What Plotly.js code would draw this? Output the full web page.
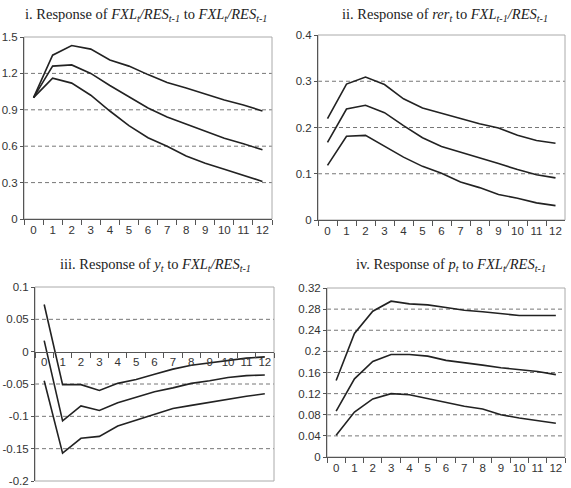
<!DOCTYPE html>
<html>
<head>
<meta charset="utf-8">
<script src="https://cdn.plot.ly/plotly-3.0.1.min.js"></script>
<style>html,body{margin:0;padding:0;background:#fff;}#chart{width:571px;height:488px;}</style>
</head>
<body>
<div id="chart"></div>
<script>
// Horizon (periods)
const periods = ['0','1','2','3','4','5','6','7','8','9','10','11','12'];

// Panel i: Response of FXL_t/RES_t-1 to FXL_t/RES_t-1
const p1Upper = [1.0, 1.35, 1.43, 1.40, 1.31, 1.26, 1.19, 1.125, 1.08, 1.03, 0.98, 0.94, 0.89];
const p1Mid   = [1.0, 1.26, 1.27, 1.20, 1.10, 1.005, 0.915, 0.84, 0.78, 0.72, 0.665, 0.62, 0.57];
const p1Lower = [1.0, 1.16, 1.12, 1.02, 0.89, 0.77, 0.67, 0.60, 0.52, 0.46, 0.41, 0.36, 0.31];

// Panel ii: Response of rer_t to FXL_t-1/RES_t-1
const p2Upper = [0.219, 0.294, 0.309, 0.293, 0.262, 0.242, 0.231, 0.219, 0.208, 0.199, 0.183, 0.172, 0.166];
const p2Mid   = [0.168, 0.240, 0.248, 0.232, 0.204, 0.178, 0.159, 0.147, 0.135, 0.122, 0.109, 0.098, 0.091];
const p2Lower = [0.118, 0.181, 0.183, 0.160, 0.136, 0.116, 0.101, 0.082, 0.070, 0.055, 0.047, 0.037, 0.031];

// Panel iii: Response of y_t to FXL_t/RES_t-1
const p3Upper = [0.073, -0.051, -0.051, -0.060, -0.049, -0.043, -0.035, -0.027, -0.021, -0.017, -0.014, -0.010, -0.008];
const p3Mid   = [0.017, -0.107, -0.084, -0.091, -0.079, -0.070, -0.062, -0.056, -0.049, -0.045, -0.040, -0.037, -0.036];
const p3Lower = [-0.045, -0.157, -0.134, -0.131, -0.115, -0.106, -0.097, -0.088, -0.083, -0.078, -0.074, -0.069, -0.065];

// Panel iv: Response of p_t to FXL_t/RES_t-1
const p4Upper = [0.145, 0.234, 0.276, 0.295, 0.290, 0.288, 0.283, 0.278, 0.275, 0.271, 0.268, 0.268, 0.268];
const p4Mid   = [0.087, 0.148, 0.181, 0.194, 0.194, 0.191, 0.183, 0.179, 0.174, 0.169, 0.166, 0.162, 0.156];
const p4Lower = [0.041, 0.085, 0.110, 0.120, 0.118, 0.111, 0.104, 0.096, 0.091, 0.080, 0.074, 0.069, 0.064];

// Tick values
const p1Ticks = [0, 0.3, 0.6, 0.9, 1.2, 1.5];
const p2Ticks = [0, 0.1, 0.2, 0.3, 0.4];
const p3Ticks = [-0.2, -0.15, -0.1, -0.05, 0, 0.05, 0.1];
const p4Ticks = [0, 0.04, 0.08, 0.12, 0.16, 0.2, 0.24, 0.28, 0.32];

const lineStyle = {color: '#222', width: 1.6};
function tr(y, xa, ya) {
  return {x: periods, y: y, type: 'scatter', mode: 'lines', line: lineStyle,
          xaxis: xa, yaxis: ya, showlegend: false, hoverinfo: 'skip'};
}
const data = [
  tr(p1Upper,'x','y'), tr(p1Mid,'x','y'), tr(p1Lower,'x','y'),
  tr(p2Upper,'x2','y2'), tr(p2Mid,'x2','y2'), tr(p2Lower,'x2','y2'),
  tr(p3Upper,'x3','y3'), tr(p3Mid,'x3','y3'), tr(p3Lower,'x3','y3'),
  tr(p4Upper,'x4','y4'), tr(p4Mid,'x4','y4'), tr(p4Lower,'x4','y4')
];

const W = 571, H = 488;
const dom = {
  1: {x: [24/W, 272/W], y: [1-219/H, 1-37/H]},
  2: {x: [318/W, 565/W], y: [1-220/H, 1-35/H]},
  3: {x: [35/W, 274/W], y: [1-481/H, 1-287/H]},
  4: {x: [327/W, 565/W], y: [1-457/H, 1-288/H]}
};
const tickFont = {family: 'Liberation Sans, Arial, sans-serif', size: 11.5, color: '#333'};
function xax(n, anchor) {
  return {domain: dom[n].x, anchor: anchor, type: 'category', tickson: 'boundaries',
          ticks: 'outside', ticklen: 5, tickcolor: '#555', showline: true, linecolor: '#555',
          linewidth: 1, showgrid: false, zeroline: false, tickfont: tickFont, fixedrange: true,
          tickangle: 0, range: [-0.5, 12.5]};
}
function yax(n, anchor, range, ticks) {
  return {domain: dom[n].y, anchor: anchor, range: range, tickvals: ticks,
          ticktext: ticks.map(v => String(v)), ticks: 'outside', ticklen: 3, tickcolor: '#555',
          showline: true, linecolor: '#555', linewidth: 1, showgrid: false, zeroline: false,
          tickfont: tickFont, fixedrange: true, ticklabeloverflow: 'allow'};
}

const x3 = xax(3, 'free');
const d3 = dom[3].y;
x3.position = d3[0] + (0 - (-0.2)) / (0.1 - (-0.2)) * (d3[1] - d3[0]);

// dashed gridlines at interior ticks
const shapes = [];
function grid(xref, yref, vals) {
  vals.forEach(v => shapes.push({type: 'line', xref: xref + ' domain', yref: yref,
    x0: 0, x1: 1, y0: v, y1: v, line: {color: '#777', width: 1, dash: '4px,3px'}, layer: 'below'}));
}
grid('x', 'y', [0.3, 0.6, 0.9, 1.2]);
grid('x2', 'y2', [0.1, 0.2, 0.3]);
grid('x3', 'y3', [-0.15, -0.1, -0.05, 0.05]);
grid('x4', 'y4', [0.04, 0.08, 0.12, 0.16, 0.2, 0.24, 0.28]);
// light plot-area frames
[['x','y'],['x2','y2'],['x3','y3'],['x4','y4']].forEach(([xa, ya]) => {
  shapes.push({type: 'rect', xref: xa + ' domain', yref: ya + ' domain', x0: 0, x1: 1, y0: 0, y1: 1,
    line: {color: '#aaa', width: 1}, layer: 'below'});
});

const titleFont = {family: 'Liberation Serif, Times New Roman, serif', size: 14.5, color: '#222'};
const titles = [
  {text: 'i. Response of <i>FXL<sub>t</sub>/RES<sub>t-1</sub></i> to <i>FXL<sub>t</sub>/RES<sub>t-1</sub></i>', x: 146, y: 15},
  {text: 'ii. Response of <i>rer<sub>t</sub></i> to <i>FXL<sub>t-1</sub>/RES<sub>t-1</sub></i>', x: 445, y: 15},
  {text: 'iii. Response of <i>y<sub>t</sub></i> to <i>FXL<sub>t</sub>/RES<sub>t-1</sub></i>', x: 155, y: 265},
  {text: 'iv. Response of <i>p<sub>t</sub></i> to <i>FXL<sub>t</sub>/RES<sub>t-1</sub></i>', x: 451, y: 265}
];
const annotations = titles.map(t => ({text: t.text, xref: 'paper', yref: 'paper',
  x: t.x / W, y: 1 - t.y / H, xanchor: 'center', yanchor: 'middle', showarrow: false, font: titleFont}));

const layout = {
  width: W, height: H, margin: {l: 0, r: 0, t: 0, b: 0},
  paper_bgcolor: '#fff', plot_bgcolor: '#fff', showlegend: false,
  xaxis: xax(1, 'y'), yaxis: yax(1, 'x', [0, 1.5], p1Ticks),
  xaxis2: xax(2, 'y2'), yaxis2: yax(2, 'x2', [0, 0.4], p2Ticks),
  xaxis3: x3, yaxis3: yax(3, 'x3', [-0.2, 0.1], p3Ticks),
  xaxis4: xax(4, 'y4'), yaxis4: yax(4, 'x4', [0, 0.32], p4Ticks),
  shapes: shapes, annotations: annotations
};
Plotly.newPlot('chart', data, layout, {displayModeBar: false, staticPlot: true});
</script>
</body>
</html>
